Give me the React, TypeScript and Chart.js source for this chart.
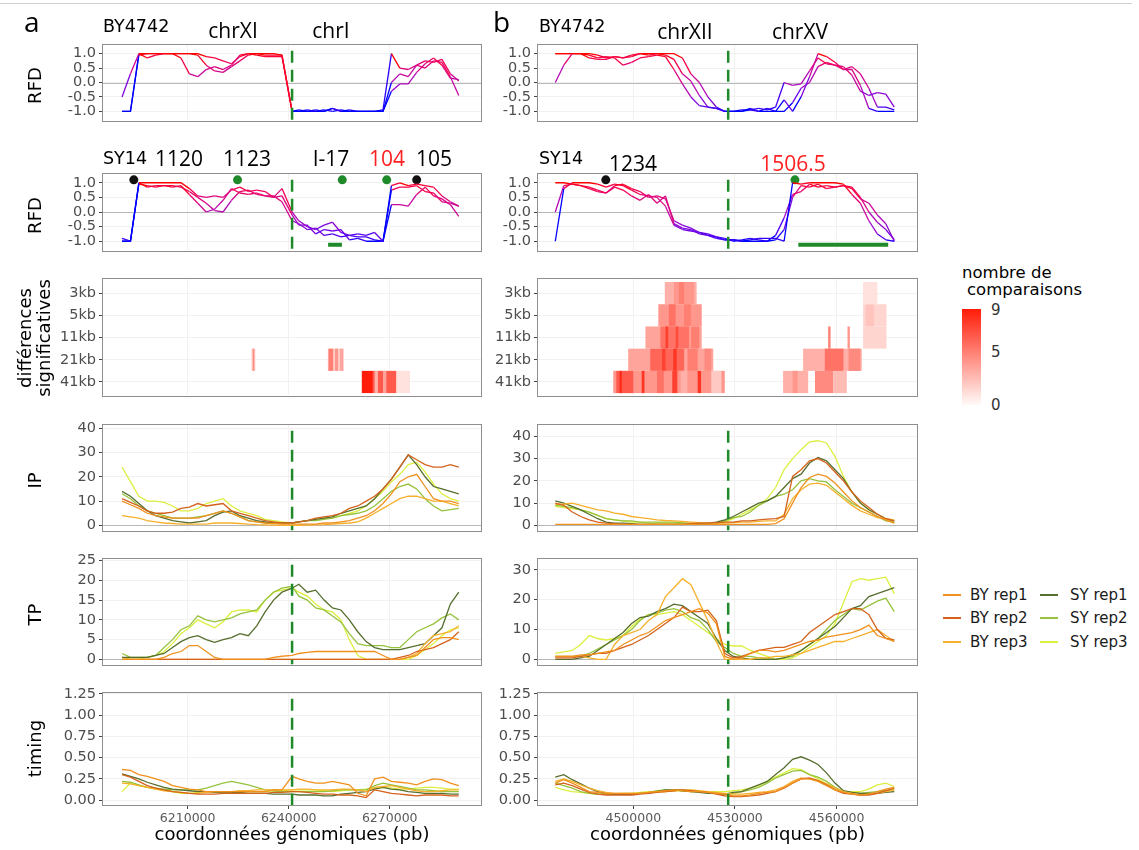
import React, { useEffect, useRef } from "react";
import { Chart, registerables } from "chart.js";

Chart.register(...registerables);

// ---------------- DATA ----------------
const X_A = [6190500, 6193000, 6195500, 6198000, 6200500, 6203000, 6205500, 6208000, 6210500, 6213000,
  6215500, 6218000, 6220500, 6223000, 6225500, 6228000, 6230500, 6233000, 6235500, 6238000,
  6241000, 6243000, 6245500, 6248000, 6250500, 6253000, 6255500, 6258000, 6260500, 6263000,
  6265500, 6268000, 6270500, 6273000, 6275500, 6278000, 6280500, 6283000, 6285500, 6288000, 6290500];
const X_B = [4477000, 4479500, 4482000, 4484500, 4487000, 4489500, 4492000, 4494500, 4497000, 4499500,
  4502000, 4504500, 4507000, 4509500, 4512000, 4514500, 4517000, 4519500, 4522000, 4524500,
  4527000, 4529500, 4532000, 4534500, 4537000, 4539500, 4542000, 4544500, 4547000, 4549500,
  4552000, 4554500, 4557000, 4559500, 4562000, 4564500, 4567000, 4569500, 4572000, 4574500, 4577000];

const X_TICKS_A = [6210000, 6240000, 6270000];
const X_TICKS_B = [4500000, 4530000, 4560000];
const JUNCTION_A = 6241000;
const JUNCTION_B = 4528000;

const RFD_TICKS = [-1, -0.5, 0, 0.5, 1];
const IP_TICKS = [0, 10, 20, 30, 40];
const TP_TICKS_A = [0, 5, 10, 15, 20, 25];
const TP_TICKS_B = [0, 10, 20, 30];
const TIMING_TICKS = [0, 0.25, 0.5, 0.75, 1, 1.25];
const HEAT_ROWS = ["41kb", "21kb", "11kb", "5kb", "3kb"];
const HEAT_LEGEND_TICKS = [0, 5, 9];

const SERIES_NAMES = ["BY rep1", "BY rep2", "BY rep3", "SY rep1", "SY rep2", "SY rep3"];
const SERIES_COLORS = ["#F0901E", "#D5621C", "#F6B02C", "#566E2E", "#96C23C", "#DCEF3E"];

// RFD, column a (chrXI | chrI)
const RFD_A_BY1 = [-0.5, 0.3, 1.0, 0.85, 0.95, 1.0, 1.0, 0.85, 0.3, 0.2, 0.45, 0.55, 0.45, 0.6, 0.95, 1.0, 1.0, 1.0, 1.0, 0.95,
  -1.0, -1.0, -0.95, -1.0, -1.0, -0.9, -1.0, -1.0, -1.0, -1.0, -1.0, -0.95, 1.0, 0.5, 0.45, 0.6, 0.75, 0.7, 0.8, 0.3, 0.05];
const RFD_A_BY2 = [-1.0, -1.0, 1.0, 1.0, 1.0, 1.0, 1.0, 1.0, 1.0, 0.95, 0.6, 0.4, 0.35, 0.55, 0.75, 0.95, 1.0, 0.95, 0.95, 0.95,
  -1.0, -1.0, -1.0, -0.95, -1.0, -0.9, -1.0, -0.95, -1.0, -1.0, -1.0, -1.0, 0.0, 0.3, 0.2, 0.6, 0.5, 0.75, 0.7, 0.2, -0.45];
const RFD_A_BY3 = [-1.0, -1.0, 0.95, 1.0, 1.0, 1.0, 1.0, 1.0, 1.0, 1.0, 0.9, 0.85, 0.75, 0.65, 0.9, 1.0, 0.95, 0.9, 0.9, 0.9,
  -1.0, -0.95, -1.0, -1.0, -0.95, -1.0, -0.95, -1.0, -1.0, -1.0, -1.0, -1.0, -0.3, -0.05, -0.05, 0.35, 0.65, 0.85, 0.6, 0.15, 0.1];
const RFD_A_SY1 = [-0.9, -1.0, 1.0, 1.0, 1.0, 1.0, 1.0, 1.0, 0.8, 0.55, 0.5, 0.55, 0.5, 0.75, 0.85, 0.7, 0.75, 0.7, 0.5, 0.8,
  0.0, -0.3, -0.5, -0.6, -0.45, -0.35, -0.7, -0.8, -0.75, -0.8, -0.7, -1.0, 0.9, 1.0, 0.9, 0.95, 0.9, 0.85, 0.55, 0.35, 0.2];
const RFD_A_SY2 = [-1.0, -1.0, 1.0, 0.85, 0.9, 0.9, 0.85, 0.9, 0.6, 0.3, 0.0, 0.1, 0.4, 0.8, 0.65, 0.6, 0.65, 0.55, 0.55, 0.35,
  -0.3, -0.4, -0.6, -0.55, -0.8, -0.75, -0.85, -0.8, -0.85, -0.85, -0.95, -1.0, 0.25, 0.25, 0.2, 0.6, 0.85, 0.55, 0.45, 0.25, -0.15];
const RFD_A_SY3 = [-1.0, -1.0, 0.95, 0.9, 0.85, 0.9, 0.9, 0.85, 0.7, 0.5, 0.3, 0.05, 0.0, 0.4, 0.7, 0.75, 0.6, 0.55, 0.5, 0.55,
  -0.1, -0.45, -0.45, -0.75, -0.6, -0.65, -0.6, -0.95, -0.9, -1.0, -1.0, -1.0, 0.75, 0.85, 0.85, 0.9, 0.7, 0.65, 0.35, 0.3, 0.2];

// RFD, column b (chrXII | chrXV)
const RFD_B_BY1 = [0.0, 0.6, 1.0, 1.0, 0.95, 0.85, 0.9, 0.85, 0.6, 0.7, 0.85, 0.9, 0.95, 0.9, 0.45, -0.05, -0.5, -0.8, -0.85, -0.9,
  -1.0, -1.0, -1.0, -0.95, -0.9, -0.95, -0.85, 0.0, -0.1, -0.05, 0.4, 0.85, 0.65, 0.6, 0.55, 0.25, -0.3, -0.45, -0.35, -0.4, -0.85];
const RFD_B_BY2 = [1.0, 1.0, 1.0, 1.0, 0.85, 0.8, 0.8, 0.9, 0.85, 0.9, 1.0, 0.95, 1.0, 0.95, 0.8, 0.3, 0.05, -0.45, -0.85, -0.9,
  -1.0, -1.0, -1.0, -0.9, -1.0, -1.0, -1.0, -0.6, -1.0, -0.5, 0.2, 1.0, 0.9, 0.7, 0.45, 0.45, -0.1, -0.9, -1.0, -1.0, -1.0];
const RFD_B_BY3 = [1.0, 1.0, 1.0, 1.0, 1.0, 0.95, 0.85, 0.9, 0.85, 0.95, 1.0, 1.0, 1.0, 1.0, 1.0, 0.85, 0.3, 0.0, -0.5, -0.85,
  -1.0, -1.0, -0.95, -0.95, -1.0, -0.9, -1.0, -1.0, -0.7, -0.2, 0.0, 0.55, 0.7, 0.6, 0.45, 0.55, 0.3, -0.2, -0.85, -0.85, -0.95];
const RFD_B_SY1 = [-1.0, 0.8, 1.0, 1.0, 1.0, 0.95, 0.85, 0.95, 0.9, 0.75, 0.6, 0.55, 0.5, 0.2, -0.45, -0.6, -0.65, -0.7, -0.8, -0.85,
  -0.95, -0.95, -1.0, -0.95, -0.9, -0.9, -0.9, -1.0, 1.0, 0.95, 1.0, 1.0, 1.0, 1.0, 0.95, 0.6, 0.3, -0.3, -0.75, -0.95, -1.0];
const RFD_B_SY2 = [0.0, 0.9, 0.95, 0.9, 0.85, 0.75, 0.65, 0.9, 0.95, 0.8, 0.7, 0.5, 0.55, 0.45, -0.3, -0.45, -0.55, -0.7, -0.75, -0.85,
  -0.9, -1.0, -0.95, -0.9, -0.95, -1.0, -0.8, -0.2, 0.6, 0.7, 0.95, 0.85, 0.9, 0.85, 0.9, 0.8, 0.45, 0.3, -0.1, -0.4, -1.0];
const RFD_B_SY3 = [1.0, 1.0, 0.95, 0.9, 0.8, 0.7, 0.65, 0.85, 0.75, 0.55, 0.4, 0.6, 0.3, 0.55, -0.4, -0.55, -0.6, -0.75, -0.8, -0.9,
  -0.95, -0.95, -1.0, -1.0, -1.0, -1.0, -0.95, -0.6, 0.5, 0.9, 0.85, 0.95, 0.8, 0.85, 0.9, 0.85, 0.5, 0.0, -0.35, -0.6, -0.95];

// origins and annotation marks
const ORI_A_X = [6194000, 6224800, 6255900, 6269100, 6278000];
const ORI_A_COLOR = ["#111111", "#1f8a2a", "#1f8a2a", "#1f8a2a", "#111111"];
const ORI_B_X = [4491900, 4547700];
const ORI_B_COLOR = ["#111111", "#1f8a2a"];
const ORI_Y = 1.1;
const BAR_A = [6251700, 6255800];
const BAR_B = [4548700, 4575200];
const BAR_Y = -1.12;

// significant differences heatmap: [start, end, row, count]
const HEAT_A = [
  [6228900, 6230100, 1, 1.5], [6229300, 6229800, 1, 4.5],
  [6251600, 6256300, 1, 1.5], [6251800, 6253200, 1, 5], [6253700, 6254700, 1, 4], [6255200, 6256200, 1, 3.5],
  [6261700, 6265000, 0, 9], [6265000, 6272000, 0, 6.5], [6265500, 6266500, 0, 3], [6268000, 6269000, 0, 3.5],
  [6272000, 6276000, 0, 1],
];
const HEAT_B = [
  [4509300, 4518700, 4, 3], [4512000, 4518000, 4, 4], [4513500, 4515000, 4, 5],
  [4507400, 4520200, 3, 4], [4510500, 4512500, 3, 5.5], [4515000, 4517000, 3, 5],
  [4503600, 4520200, 2, 3.5], [4508000, 4516500, 2, 5.5], [4509500, 4510300, 2, 7.5], [4512500, 4513300, 2, 7], [4517000, 4519500, 2, 5],
  [4498500, 4523600, 1, 3.5], [4505000, 4515000, 1, 6], [4508500, 4509500, 1, 7.5], [4511800, 4512800, 1, 8], [4516000, 4519000, 1, 5], [4521000, 4523000, 1, 4.5],
  [4494100, 4527000, 0, 4], [4495000, 4500000, 0, 6.5], [4496000, 4496600, 0, 8.5], [4502500, 4503300, 0, 8], [4507000, 4509000, 0, 5.5],
  [4511500, 4513000, 0, 7.5], [4514000, 4516000, 0, 3], [4519000, 4520000, 0, 8], [4523000, 4526000, 0, 2],
  [4544200, 4551600, 0, 3], [4547000, 4548500, 0, 4], [4553600, 4559000, 0, 4.5], [4559000, 4563000, 0, 2.5],
  [4550100, 4567400, 1, 3], [4556500, 4562000, 1, 5.5], [4563500, 4567000, 1, 4.5],
  [4557500, 4558200, 2, 5], [4563200, 4563900, 2, 4], [4567800, 4574700, 2, 1.5],
  [4567800, 4574700, 3, 1.5], [4568500, 4571000, 3, 2.2], [4567800, 4572000, 4, 1],
];

// IP, column a
const IP_A_BY1 = [10, 8.5, 7, 5, 4, 3.5, 3, 3, 3, 3, 4, 5, 6, 5, 3.5, 2, 1.5, 1, 0.8, 0.5, 0.5, 0.5, 0.5, 0.5, 1, 1, 1.5, 2, 3, 4, 6, 9, 13, 18, 20, 21, 16, 11, 10, 10, 9];
const IP_A_BY2 = [11, 9.5, 8, 6, 5, 5, 5.5, 7, 7.5, 9, 8, 8.5, 9, 6, 5, 4, 3, 2, 1.5, 1, 1, 1.5, 2, 3, 3.5, 4, 5, 7, 8, 10, 12, 15, 19, 24, 29, 27, 25, 24, 24, 25, 24];
const IP_A_BY3 = [4, 3.5, 3, 2, 1.5, 1, 0.8, 0.5, 0.5, 0.5, 0.5, 1, 1, 1, 0.8, 0.5, 0.3, 0.2, 0.1, 0, 0, 0, 0.1, 0.2, 0.3, 0.5, 0.8, 1, 1.5, 3, 5, 7, 9, 11, 12, 12, 11, 10, 10, 9, 8];
const IP_A_SY1 = [14, 12, 9, 6, 4, 3, 2, 1.5, 1, 1.5, 2, 4, 5.5, 6, 4, 3, 2, 1.5, 1, 1, 1, 1.5, 2, 2.5, 3, 3.5, 5, 6, 7, 8, 11, 15, 19, 24, 29, 25, 20, 16, 15, 14, 13];
const IP_A_SY2 = [13, 11, 8, 6, 5, 4, 3, 3, 3, 3.5, 4, 5, 6, 5, 3.5, 2, 1.5, 1, 1, 1, 1, 1.5, 2, 2, 2.5, 3, 4, 4.5, 5, 6, 8, 11, 14, 16, 17, 15, 11, 8, 6, 6.5, 7];
const IP_A_SY3 = [24, 18, 12, 10, 10, 9.5, 8, 6, 6, 7, 9, 10, 11, 8, 6, 5, 4, 2.5, 2, 1.5, 1, 1.5, 2, 2.5, 3, 3, 4, 5, 6, 8, 11, 14, 18, 21, 25, 26, 22, 17, 13, 11, 10];

// IP, column b
const IP_B_BY1 = [0.5, 0.5, 0.5, 0.5, 0.5, 0.5, 0.5, 0.5, 0.5, 0.5, 0.5, 0.5, 0.5, 0.5, 0.5, 0.5, 0.5, 0.5, 0.5, 0.5, 0.5, 0.5, 0.5, 0.5, 0.5, 0.5, 0.8, 3, 10, 17, 21.5, 23, 22, 19, 15, 11, 8, 6, 4, 2.5, 1];
const IP_B_BY2 = [10, 9, 6, 4, 2.5, 1.5, 1, 0.8, 0.5, 0.5, 0.5, 0.5, 0.5, 0.5, 0.5, 0.5, 0.8, 1, 1, 1.2, 1.5, 1.5, 2, 2, 2.5, 2.8, 3, 4, 22, 25, 29, 30, 28, 24, 20, 15, 11, 8, 5, 3, 2];
const IP_B_BY3 = [9.5, 9.5, 10, 9, 8, 7, 6.5, 5.5, 5, 4, 3.5, 3, 2.5, 2.2, 2, 1.8, 1.5, 1.2, 1, 1, 1, 1.2, 1.5, 1.5, 1.8, 2, 2, 5, 12, 16, 18.5, 19, 18, 15, 12, 9, 6.5, 5, 3.5, 3, 2.5];
const IP_B_SY1 = [11, 10, 8.5, 7, 5, 3, 1.5, 1, 1, 0.8, 0.5, 0.5, 0.5, 0.5, 0.5, 0.5, 0.5, 0.8, 1, 1.5, 2.5, 4, 6, 8, 10, 11, 13, 17, 21, 23, 28, 30.5, 29, 25, 21, 15, 10, 7, 5, 3, 2];
const IP_B_SY2 = [9, 8.5, 8, 7, 6, 4.5, 3, 2.5, 2, 2, 1.5, 1.5, 1.5, 1.5, 1.5, 1.2, 1, 1, 1, 1, 2, 3.5, 4, 6, 9, 11, 13, 14, 16, 20, 21, 20, 19.5, 16, 13, 10, 8, 6, 4, 2, 1.5];
const IP_B_SY3 = [8.5, 8, 7.5, 7, 6, 4.5, 3, 2.5, 2, 1.5, 1.5, 1, 1, 1, 1, 0.8, 0.5, 0.5, 0.5, 0.8, 1.5, 3, 5, 7, 9, 12, 17, 25, 30, 34, 37.5, 38, 37, 31, 22, 15, 10, 7, 5, 3, 1];

// TP, column a
const TP_A_BY1 = [0, 0, 0, 0, 0, 0.5, 1.5, 2, 3.5, 3.5, 2, 0.5, 0, 0, 0, 0, 0, 0, 0.5, 0.8, 1, 1.5, 1.8, 2, 2, 2, 2, 2, 2, 2, 2, 1, 0, 0, 0.5, 1, 3, 5, 5.5, 5.5, 5];
const TP_A_BY2 = [0, 0, 0, 0, 0, 0, 0, 0, 0, 0, 0, 0, 0, 0, 0, 0, 0, 0, 0, 0, 0, 0, 0, 0, 0, 0, 0, 0, 0, 0, 0, 0, 0, 0.5, 1, 2, 2.5, 3, 4, 5, 7];
const TP_A_BY3 = [0, 0, 0, 0, 0, 0, 0, 0, 0, 0, 0, 0, 0, 0, 0, 0, 0, 0, 0, 0, 0, 0, 0, 0, 0, 0, 0, 0, 0, 0, 0, 0, 0, 0, 0.5, 1.5, 4, 6, 6.5, 7, 8.5];
const TP_A_SY1 = [0.5, 0.5, 0.5, 0.5, 1, 1.5, 3, 4.5, 5.5, 6, 5, 4.3, 5, 5.5, 6.5, 6, 8.5, 12, 15, 17, 18, 19, 17, 17.5, 15, 13, 12.5, 10, 7, 4.5, 3, 2.5, 2.5, 2.5, 3, 3.5, 4, 6, 8, 14, 17];
const TP_A_SY2 = [1.5, 0.5, 0.5, 0.5, 1, 3, 5, 7.5, 8.5, 11, 10, 9.5, 10, 10.5, 11.5, 12, 12.5, 15, 17, 18, 18.5, 16, 15, 13, 12.5, 11, 9.5, 6.5, 4, 3.5, 3.5, 3.5, 3, 3, 5, 7, 8, 9, 10.5, 11.5, 10];
const TP_A_SY3 = [0.5, 0, 0, 0.5, 1, 2, 4, 6.5, 8, 10, 9, 8, 9.5, 12, 12.5, 12.5, 12, 15, 17, 17.5, 18, 17, 16, 14, 12.5, 12, 10, 5, 1, 0, 0, 0, 0, 0, 0, 1, 2.5, 4, 6, 7.5, 8];

// TP, column b
const TP_B_BY1 = [1, 1, 1, 1.5, 1.5, 2, 2.5, 3, 5, 6.5, 8, 9, 11, 13, 14, 15, 16, 17, 15.5, 12, 1, 0, 0.5, 2, 3, 3, 2.5, 3, 4, 5, 6, 6.5, 7.5, 8, 8.5, 9, 10, 11.5, 8, 7, 6];
const TP_B_BY2 = [0.5, 0.5, 0.5, 1, 1.5, 2, 2, 3, 4, 5, 6.5, 8, 10, 12, 14, 17.5, 16, 16, 16.5, 13, 2, 0.5, 1, 2, 3, 3.5, 4, 4, 5, 6, 9, 11, 13, 15, 16, 17, 17, 15, 10, 7, 6.5];
const TP_B_BY3 = [1, 1, 1, 1, 0.5, 0, 0, 5, 8, 9, 10, 13, 15, 21, 24, 27, 25, 19, 13, 6, 0, 0, 0, 0, 0.5, 0.5, 1, 1, 1.5, 2, 3, 4, 5, 6, 6, 7, 8, 9, 10, 8, 6];
const TP_B_SY1 = [0, 0, 0, 0.5, 1, 3, 5, 7, 9, 12, 14, 14.5, 16, 17, 18.5, 18, 16, 14, 12, 7, 3, 1, 0.5, 0, 0, 0, 0, 0.5, 1.5, 3, 5, 7, 9, 11, 14, 17, 18, 21, 22, 23, 24];
const TP_B_SY2 = [1, 1, 1, 1, 2, 3.5, 5, 6.5, 8, 10, 13, 15, 15.5, 16.5, 17, 16, 14, 13, 10, 6, 4, 2, 1, 1, 0.5, 0.3, 0, 0.5, 1, 3, 5, 7, 10, 13, 15, 17, 16.5, 18, 19.5, 20.5, 16];
const TP_B_SY3 = [2, 2.5, 3, 5, 8, 7, 6.5, 7, 8, 11, 13.5, 15, 15, 15.5, 16, 15, 13, 11, 9, 7, 5, 4.5, 4.5, 3, 2, 1, 0, 0, 0.5, 2, 4, 6, 8, 12, 19, 26, 27, 26.5, 27, 27.5, 22];

// timing, column a
const TIM_A_BY1 = [0.36, 0.35, 0.3, 0.28, 0.25, 0.22, 0.17, 0.15, 0.13, 0.12, 0.1, 0.1, 0.1, 0.1, 0.1, 0.1, 0.1, 0.1, 0.12, 0.12, 0.28, 0.25, 0.22, 0.2, 0.2, 0.22, 0.2, 0.18, 0.08, 0.05, 0.25, 0.27, 0.22, 0.21, 0.2, 0.18, 0.22, 0.25, 0.24, 0.2, 0.17];
const TIM_A_BY2 = [0.3, 0.27, 0.22, 0.17, 0.14, 0.12, 0.1, 0.09, 0.08, 0.07, 0.07, 0.07, 0.08, 0.08, 0.08, 0.08, 0.08, 0.08, 0.09, 0.09, 0.1, 0.1, 0.09, 0.08, 0.07, 0.07, 0.06, 0.06, 0.05, 0.03, 0.12, 0.1, 0.08, 0.07, 0.06, 0.05, 0.06, 0.06, 0.06, 0.05, 0.05];
const TIM_A_BY3 = [0.2, 0.19, 0.17, 0.15, 0.13, 0.11, 0.1, 0.09, 0.08, 0.08, 0.09, 0.1, 0.1, 0.1, 0.11, 0.11, 0.12, 0.12, 0.12, 0.12, 0.12, 0.13, 0.13, 0.12, 0.12, 0.12, 0.13, 0.13, 0.12, 0.1, 0.15, 0.16, 0.17, 0.15, 0.13, 0.11, 0.1, 0.1, 0.11, 0.12, 0.12];
const TIM_A_SY1 = [0.31, 0.28, 0.25, 0.21, 0.18, 0.15, 0.13, 0.12, 0.11, 0.1, 0.1, 0.09, 0.09, 0.09, 0.09, 0.08, 0.08, 0.08, 0.07, 0.07, 0.07, 0.06, 0.06, 0.06, 0.05, 0.05, 0.07, 0.08, 0.09, 0.1, 0.13, 0.15, 0.13, 0.12, 0.1, 0.09, 0.08, 0.08, 0.08, 0.07, 0.07];
const TIM_A_SY2 = [0.22, 0.21, 0.18, 0.15, 0.14, 0.13, 0.12, 0.12, 0.12, 0.12, 0.14, 0.17, 0.2, 0.22, 0.2, 0.18, 0.15, 0.12, 0.11, 0.1, 0.1, 0.1, 0.1, 0.1, 0.1, 0.11, 0.12, 0.12, 0.12, 0.12, 0.17, 0.2, 0.18, 0.16, 0.14, 0.12, 0.12, 0.11, 0.1, 0.1, 0.1];
const TIM_A_SY3 = [0.1, 0.2, 0.17, 0.15, 0.13, 0.12, 0.1, 0.08, 0.08, 0.09, 0.1, 0.1, 0.1, 0.1, 0.1, 0.1, 0.1, 0.1, 0.11, 0.11, 0.12, 0.12, 0.12, 0.12, 0.11, 0.1, 0.11, 0.12, 0.12, 0.13, 0.14, 0.15, 0.14, 0.13, 0.13, 0.14, 0.15, 0.15, 0.14, 0.13, 0.13];

// timing, column b
const TIM_B_BY1 = [0.2, 0.24, 0.2, 0.15, 0.1, 0.09, 0.08, 0.08, 0.08, 0.08, 0.08, 0.09, 0.1, 0.11, 0.12, 0.11, 0.1, 0.1, 0.09, 0.08, 0.07, 0.05, 0.05, 0.06, 0.08, 0.09, 0.1, 0.15, 0.2, 0.25, 0.25, 0.22, 0.17, 0.12, 0.09, 0.07, 0.06, 0.07, 0.1, 0.13, 0.15];
const TIM_B_BY2 = [0.18, 0.2, 0.17, 0.13, 0.09, 0.07, 0.06, 0.06, 0.06, 0.06, 0.07, 0.08, 0.09, 0.1, 0.11, 0.12, 0.11, 0.1, 0.09, 0.07, 0.05, 0.04, 0.04, 0.05, 0.06, 0.08, 0.1, 0.14, 0.2, 0.25, 0.26, 0.23, 0.18, 0.12, 0.08, 0.07, 0.06, 0.06, 0.08, 0.11, 0.14];
const TIM_B_BY3 = [0.22, 0.25, 0.22, 0.18, 0.14, 0.11, 0.09, 0.08, 0.08, 0.08, 0.08, 0.09, 0.1, 0.1, 0.11, 0.12, 0.12, 0.11, 0.1, 0.09, 0.08, 0.07, 0.07, 0.08, 0.09, 0.1, 0.12, 0.16, 0.22, 0.26, 0.25, 0.23, 0.19, 0.14, 0.1, 0.08, 0.06, 0.07, 0.08, 0.1, 0.12];
const TIM_B_SY1 = [0.27, 0.3, 0.24, 0.19, 0.14, 0.1, 0.08, 0.07, 0.07, 0.07, 0.08, 0.08, 0.1, 0.12, 0.12, 0.11, 0.1, 0.09, 0.08, 0.08, 0.07, 0.09, 0.1, 0.14, 0.18, 0.22, 0.3, 0.38, 0.48, 0.51, 0.47, 0.42, 0.32, 0.2, 0.11, 0.09, 0.08, 0.08, 0.08, 0.09, 0.1];
const TIM_B_SY2 = [0.2, 0.17, 0.14, 0.1, 0.08, 0.07, 0.07, 0.07, 0.07, 0.07, 0.08, 0.09, 0.11, 0.12, 0.12, 0.12, 0.11, 0.1, 0.09, 0.08, 0.06, 0.08, 0.1, 0.12, 0.15, 0.2, 0.26, 0.3, 0.34, 0.35, 0.3, 0.27, 0.22, 0.15, 0.1, 0.09, 0.08, 0.09, 0.1, 0.11, 0.12];
const TIM_B_SY3 = [0.15, 0.12, 0.1, 0.09, 0.08, 0.07, 0.07, 0.07, 0.08, 0.08, 0.09, 0.1, 0.1, 0.1, 0.11, 0.11, 0.1, 0.1, 0.1, 0.1, 0.1, 0.11, 0.12, 0.14, 0.17, 0.22, 0.27, 0.32, 0.37, 0.36, 0.3, 0.25, 0.19, 0.14, 0.1, 0.1, 0.1, 0.13, 0.18, 0.2, 0.16];

// ---------------- STYLE / LAYOUT ----------------
const FONT = "'DejaVu Sans', Verdana, sans-serif";
const ANNOT_FONT = "'Open Sans', 'DejaVu Sans', sans-serif";
const GRID = "#f1f1f1";
const FRAME = "#8e8e8e";
const GREEN = "#1f8a2a";
const AXW = 70, PT = 10, PR = 8, PB = 4, XH = 30;

const COLS = {
  a: { left: 103, right: 481, xMin: 6184850, xMax: 6297100, xTicks: X_TICKS_A, junction: JUNCTION_A, xs: X_A },
  b: { left: 538, right: 917, xMin: 4471900, xMax: 4583700, xTicks: X_TICKS_B, junction: JUNCTION_B, xs: X_B },
};
const ROWS = {
  rfd1: { top: 43, bottom: 128 },
  rfd2: { top: 172, bottom: 258 },
  heat: { top: 277, bottom: 403 },
  ip: { top: 423, bottom: 538 },
  tp: { top: 557, bottom: 672 },
  timing: { top: 691, bottom: 805 },
};

function rfdColor(v: number) {
  const t = Math.max(0, Math.min(1, (v + 1) / 2));
  const r = Math.round(255 * Math.sqrt(t));
  const b = Math.round(255 * Math.sqrt(1 - t));
  return `rgb(${r},${Math.round(10 * (1 - Math.abs(2 * t - 1)))},${b})`;
}
function heatColor(v: number) {
  const t = Math.max(0, Math.min(1, v / 9));
  return `rgb(255,${Math.round(250 - t * 222)},${Math.round(248 - t * 240)})`;
}

function lineDs(xs: number[], ys: number[], color: string, w = 1.3): any {
  return {
    type: "line",
    data: xs.map((x, i) => ({ x, y: ys[i] })),
    borderColor: color,
    borderWidth: w,
    pointRadius: 0,
    tension: 0,
    fill: false,
  };
}
function rfdDs(xs: number[], ys: number[]): any {
  return {
    ...lineDs(xs, ys, "#ff0000", 1.3),
    segment: { borderColor: (c: any) => rfdColor(c.p0.parsed.y) },
  };
}
function seriesDs(xs: number[], list: number[][]): any[] {
  return list.map((ys, i) => lineDs(xs, ys, SERIES_COLORS[i], 1.3));
}

type Spec = {
  col: any;
  row: { top: number; bottom: number };
  yMin: number;
  yMax: number;
  yTicks: number[];
  fmt: (v: number) => string;
  bottom?: boolean;
  zero?: boolean;
  dash?: boolean;
  cells?: number[][];
  datasets: any[];
};

function makeConfig(p: Spec): any {
  const deco = {
    id: "deco",
    beforeDatasetsDraw(chart: any) {
      const { ctx, chartArea: a, scales } = chart;
      ctx.save();
      ctx.beginPath();
      ctx.rect(a.left, a.top, a.right - a.left, a.bottom - a.top);
      ctx.clip();
      if (p.cells) {
        for (const [x0, x1, r, v] of p.cells) {
          const px0 = scales.x.getPixelForValue(x0);
          const px1 = scales.x.getPixelForValue(x1);
          const py0 = scales.y.getPixelForValue(r + 0.5);
          const py1 = scales.y.getPixelForValue(r - 0.5);
          ctx.fillStyle = heatColor(v);
          ctx.fillRect(px0, py0, Math.max(1, px1 - px0), py1 - py0);
        }
      }
      if (p.zero) {
        const y = Math.round(scales.y.getPixelForValue(0)) + 0.5;
        ctx.strokeStyle = "#b8b8b8";
        ctx.lineWidth = 1;
        ctx.beginPath();
        ctx.moveTo(a.left, y);
        ctx.lineTo(a.right, y);
        ctx.stroke();
      }
      ctx.restore();
    },
    afterDatasetsDraw(chart: any) {
      const { ctx, chartArea: a, scales } = chart;
      ctx.save();
      if (p.dash) {
        const x = scales.x.getPixelForValue(p.col.junction);
        ctx.strokeStyle = GREEN;
        ctx.lineWidth = 2.5;
        ctx.setLineDash([12, 7]);
        ctx.lineDashOffset = -6;
        ctx.beginPath();
        ctx.moveTo(x, a.top);
        ctx.lineTo(x, a.bottom);
        ctx.stroke();
        ctx.setLineDash([]);
      }
      ctx.strokeStyle = FRAME;
      ctx.lineWidth = 1;
      ctx.strokeRect(Math.round(a.left) - 0.5, Math.round(a.top) - 0.5, Math.round(a.right - a.left) + 1, Math.round(a.bottom - a.top) + 1);
      ctx.restore();
    },
  };
  return {
    type: "line",
    data: { datasets: p.datasets },
    options: {
      animation: false,
      responsive: false,
      maintainAspectRatio: false,
      events: [],
      layout: { padding: { top: PT, right: PR, bottom: PB, left: 0 } },
      plugins: { legend: { display: false }, tooltip: { enabled: false } },
      scales: {
        x: {
          type: "linear",
          min: p.col.xMin,
          max: p.col.xMax,
          afterBuildTicks: (s: any) => { s.ticks = p.col.xTicks.map((v: number) => ({ value: v })); },
          afterFit: (s: any) => { s.height = p.bottom ? XH : 0; },
          ticks: {
            display: !!p.bottom,
            color: "#5a5a5a",
            font: { family: FONT, size: 12.5 },
            padding: 2,
            maxRotation: 0,
            autoSkip: false,
            callback: (v: any) => String(v),
          },
          grid: { color: GRID, drawTicks: !!p.bottom, tickLength: 4, tickColor: "#444" },
          border: { display: false },
        },
        y: {
          type: "linear",
          min: p.yMin,
          max: p.yMax,
          afterBuildTicks: (s: any) => { s.ticks = p.yTicks.map((v) => ({ value: v })); },
          afterFit: (s: any) => { s.width = AXW; },
          ticks: {
            color: "#4d4d4d",
            font: { family: FONT, size: 14.5 },
            padding: 3,
            autoSkip: false,
            callback: (v: any) => p.fmt(Number(v)),
          },
          grid: { color: GRID, tickLength: 4, tickColor: "#444" },
          border: { display: false },
        },
      },
    },
    plugins: [deco],
  };
}

function ChartBox({ spec }: { spec: Spec }) {
  const ref = useRef<HTMLCanvasElement | null>(null);
  const { col, row, bottom } = spec;
  const left = col.left - AXW;
  const top = row.top - PT;
  const width = AXW + (col.right - col.left) + PR;
  const height = PT + (row.bottom - row.top) + PB + (bottom ? XH : 0);
  useEffect(() => {
    const chart = new Chart(ref.current as HTMLCanvasElement, makeConfig(spec));
    return () => chart.destroy();
  }, []);
  return (
    <canvas
      ref={ref}
      width={width}
      height={height}
      style={{ position: "absolute", left, top, width, height, zIndex: 1 }}
    />
  );
}

const f1 = (v: number) => v.toFixed(1);
const f2 = (v: number) => v.toFixed(2);
const f0 = (v: number) => String(v);
const fHeat = (v: number) => HEAT_ROWS[v] ?? "";

function rfdExtras(col: any, oriX: number[], oriColor: string[], bar: number[]) {
  return [
    {
      type: "line",
      data: bar.map((x) => ({ x, y: BAR_Y })),
      borderColor: GREEN,
      borderWidth: 4,
      pointRadius: 0,
    },
    {
      type: "scatter",
      data: oriX.map((x) => ({ x, y: ORI_Y })),
      showLine: false,
      pointRadius: 4.5,
      pointBorderWidth: 0,
      pointBackgroundColor: oriColor,
    },
  ];
}

const SPECS: Spec[] = [
  // column a
  { col: COLS.a, row: ROWS.rfd1, yMin: -1.31, yMax: 1.31, yTicks: RFD_TICKS, fmt: f1, zero: true, dash: true,
    datasets: [RFD_A_BY1, RFD_A_BY2, RFD_A_BY3].map((s) => rfdDs(X_A, s)) },
  { col: COLS.a, row: ROWS.rfd2, yMin: -1.31, yMax: 1.31, yTicks: RFD_TICKS, fmt: f1, zero: true, dash: true,
    datasets: [...[RFD_A_SY1, RFD_A_SY2, RFD_A_SY3].map((s) => rfdDs(X_A, s)), ...rfdExtras(COLS.a, ORI_A_X, ORI_A_COLOR, BAR_A)] },
  { col: COLS.a, row: ROWS.heat, yMin: -0.6, yMax: 4.65, yTicks: [0, 1, 2, 3, 4], fmt: fHeat, cells: HEAT_A, datasets: [] },
  { col: COLS.a, row: ROWS.ip, yMin: -2.0, yMax: 41.4, yTicks: IP_TICKS, fmt: f0, zero: true, dash: true,
    datasets: seriesDs(X_A, [IP_A_BY1, IP_A_BY2, IP_A_BY3, IP_A_SY1, IP_A_SY2, IP_A_SY3]) },
  { col: COLS.a, row: ROWS.tp, yMin: -1.23, yMax: 25.46, yTicks: TP_TICKS_A, fmt: f0, zero: true, dash: true,
    datasets: seriesDs(X_A, [TP_A_BY1, TP_A_BY2, TP_A_BY3, TP_A_SY1, TP_A_SY2, TP_A_SY3]) },
  { col: COLS.a, row: ROWS.timing, yMin: -0.058, yMax: 1.265, yTicks: TIMING_TICKS, fmt: f2, dash: true, bottom: true,
    datasets: seriesDs(X_A, [TIM_A_BY1, TIM_A_BY2, TIM_A_BY3, TIM_A_SY1, TIM_A_SY2, TIM_A_SY3]) },
  // column b
  { col: COLS.b, row: ROWS.rfd1, yMin: -1.31, yMax: 1.31, yTicks: RFD_TICKS, fmt: f1, zero: true, dash: true,
    datasets: [RFD_B_BY1, RFD_B_BY2, RFD_B_BY3].map((s) => rfdDs(X_B, s)) },
  { col: COLS.b, row: ROWS.rfd2, yMin: -1.31, yMax: 1.31, yTicks: RFD_TICKS, fmt: f1, zero: true, dash: true,
    datasets: [...[RFD_B_SY1, RFD_B_SY2, RFD_B_SY3].map((s) => rfdDs(X_B, s)), ...rfdExtras(COLS.b, ORI_B_X, ORI_B_COLOR, BAR_B)] },
  { col: COLS.b, row: ROWS.heat, yMin: -0.6, yMax: 4.65, yTicks: [0, 1, 2, 3, 4], fmt: fHeat, cells: HEAT_B, datasets: [] },
  { col: COLS.b, row: ROWS.ip, yMin: -2.2, yMax: 45.2, yTicks: IP_TICKS, fmt: f0, zero: true, dash: true,
    datasets: seriesDs(X_B, [IP_B_BY1, IP_B_BY2, IP_B_BY3, IP_B_SY1, IP_B_SY2, IP_B_SY3]) },
  { col: COLS.b, row: ROWS.tp, yMin: -1.63, yMax: 33.7, yTicks: TP_TICKS_B, fmt: f0, zero: true, dash: true,
    datasets: seriesDs(X_B, [TP_B_BY1, TP_B_BY2, TP_B_BY3, TP_B_SY1, TP_B_SY2, TP_B_SY3]) },
  { col: COLS.b, row: ROWS.timing, yMin: -0.058, yMax: 1.265, yTicks: TIMING_TICKS, fmt: f2, dash: true, bottom: true,
    datasets: seriesDs(X_B, [TIM_B_BY1, TIM_B_BY2, TIM_B_BY3, TIM_B_SY1, TIM_B_SY2, TIM_B_SY3]) },
];

// ---------------- TEXT ----------------
function Txt({ x, top, size, children, color = "#000", family = FONT, center = false }: any) {
  return (
    <div
      style={{
        position: "absolute",
        left: x,
        top,
        fontSize: size,
        lineHeight: 1,
        fontFamily: family,
        color,
        whiteSpace: "pre",
        transform: center ? "translateX(-50%)" : undefined,
        zIndex: 2,
      }}
    >
      {children}
    </div>
  );
}

function VLabel({ cx, cy, lines, size = 18 }: any) {
  const w = 220;
  const lh = Math.round(size * 1.08);
  const h = lh * lines.length;
  return (
    <div
      style={{
        position: "absolute",
        left: cx - w / 2,
        top: cy - h / 2,
        width: w,
        height: h,
        transform: "rotate(-90deg)",
        textAlign: "center",
        fontSize: size,
        lineHeight: lh + "px",
        fontFamily: FONT,
        color: "#000",
        whiteSpace: "nowrap",
        zIndex: 2,
      }}
    >
      {lines.map((l: string, i: number) => (
        <div key={i}>{l}</div>
      ))}
    </div>
  );
}

const ANNOT_A = [
  { text: "1120", x: 179, color: "#000" },
  { text: "1123", x: 247, color: "#000" },
  { text: "I-17", x: 331, color: "#000" },
  { text: "104", x: 387, color: "#ff2020" },
  { text: "105", x: 434, color: "#000" },
];
const ANNOT_B = [
  { text: "1234", x: 633, color: "#000" },
  { text: "1506.5", x: 793, color: "#ff2020" },
];

export default function App() {
  const legendRows = [595, 618, 642];
  return (
    <div style={{ position: "absolute", left: 0, top: 0, width: 1139, height: 850, background: "#fff", overflow: "hidden" }}>
      <div style={{ position: "absolute", left: 0, top: 3, width: 1132, height: 1, background: "#cfcfcf" }} />

      {SPECS.map((s, i) => (
        <ChartBox key={i} spec={s} />
      ))}

      {/* panel letters */}
      <Txt x={24} top={7} size={28} family={ANNOT_FONT}>a</Txt>
      <Txt x={493} top={7} size={28} family={ANNOT_FONT}>b</Txt>

      {/* strain titles */}
      <Txt x={103} top={18} size={17.5}>BY4742</Txt>
      <Txt x={539} top={18} size={17.5}>BY4742</Txt>
      <Txt x={103} top={149.5} size={17.5}>SY14</Txt>
      <Txt x={539} top={149.5} size={17.5}>SY14</Txt>

      {/* chromosome labels */}
      <Txt x={233} top={19.5} size={21} family={ANNOT_FONT} center>chrXI</Txt>
      <Txt x={331} top={19.5} size={21} family={ANNOT_FONT} center>chrI</Txt>
      <Txt x={685} top={20.5} size={21} family={ANNOT_FONT} center>chrXII</Txt>
      <Txt x={800} top={20.5} size={21} family={ANNOT_FONT} center>chrXV</Txt>

      {/* origin labels */}
      {ANNOT_A.map((a, i) => (
        <Txt key={"aa" + i} x={a.x} top={148} size={21} family={ANNOT_FONT} color={a.color} center>{a.text}</Txt>
      ))}
      {ANNOT_B.map((a, i) => (
        <Txt key={"ab" + i} x={a.x} top={153} size={21} family={ANNOT_FONT} color={a.color} center>{a.text}</Txt>
      ))}

      {/* y-axis titles */}
      <VLabel cx={34} cy={85.5} lines={["RFD"]} />
      <VLabel cx={34} cy={215} lines={["RFD"]} />
      <VLabel cx={34} cy={338} lines={["différences", "significatives"]} />
      <VLabel cx={34} cy={480.5} lines={["IP"]} />
      <VLabel cx={34} cy={614.5} lines={["TP"]} />
      <VLabel cx={34} cy={748} lines={["timing"]} />

      {/* x-axis titles */}
      <Txt x={292} top={825} size={18} center>coordonnées génomiques (pb)</Txt>
      <Txt x={727.5} top={825} size={18} center>coordonnées génomiques (pb)</Txt>

      {/* heat legend */}
      <div style={{ position: "absolute", left: 962, top: 264, fontFamily: FONT, fontSize: 16.5, lineHeight: "17px", color: "#000", whiteSpace: "pre", zIndex: 2 }}>
        <div>nombre de</div>
        <div style={{ paddingLeft: 5 }}>comparaisons</div>
      </div>
      <div
        style={{
          position: "absolute",
          left: 962,
          top: 309,
          width: 19,
          height: 96,
          background: `linear-gradient(to top, ${heatColor(0)}, ${heatColor(3)}, ${heatColor(6)}, ${heatColor(9)})`,
          zIndex: 2,
        }}
      />
      {HEAT_LEGEND_TICKS.map((v) => (
        <Txt key={"hl" + v} x={991} top={405 - v * 10.55 - 7.2} size={15} color="#333">{String(v)}</Txt>
      ))}

      {/* series legend */}
      {SERIES_NAMES.map((name, i) => {
        const colIdx = i < 3 ? 0 : 1;
        const cy = legendRows[i % 3];
        const lx = colIdx === 0 ? 943 : 1040;
        const tx = colIdx === 0 ? 970 : 1070;
        return (
          <React.Fragment key={name}>
            <div style={{ position: "absolute", left: lx, top: cy - 1, width: 18, height: 2, background: SERIES_COLORS[i], zIndex: 2 }} />
            <Txt x={tx} top={cy - 7.5} size={15} color="#1a1a1a">{name}</Txt>
          </React.Fragment>
        );
      })}
    </div>
  );
}
